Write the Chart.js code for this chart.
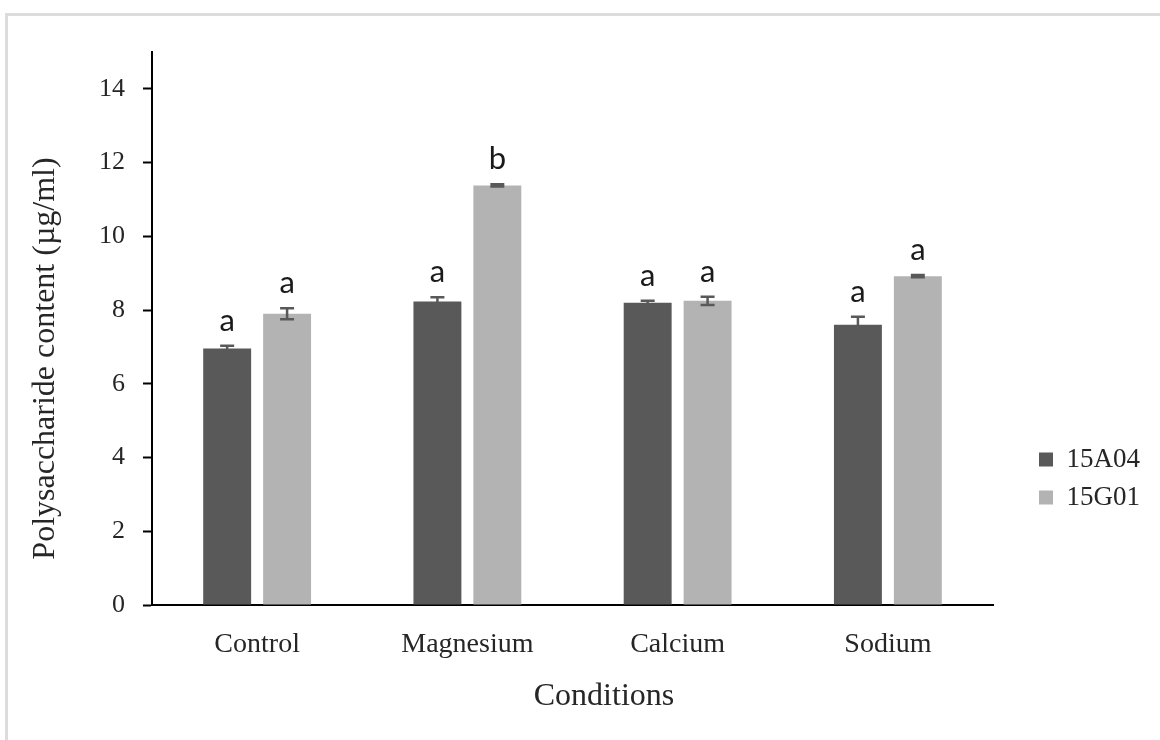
<!DOCTYPE html>
<html lang="en">
<head>
<meta charset="UTF-8">
<title>Polysaccharide content by condition</title>
<style>
  html, body {
    margin: 0;
    padding: 0;
    background: #fff;
    overflow: hidden;
  }
  /* light grey frame of the original figure, open to the right and bottom */
  .frame {
    position: absolute;
    left: 5px;
    top: 13px;
    width: 1200px;
    height: 800px;
    border-left: 3px solid #dcdcdc;
    border-top: 3px solid #dcdcdc;
  }
  .chart-container {
    position: absolute;
    left: 0;
    top: 0;
    width: 1160px;
    height: 740px;
  }
</style>
<script src="https://cdn.jsdelivr.net/npm/chart.js@4"></script>
</head>
<body>
<div class="frame"></div>
<div class="chart-container">
  <canvas id="polysaccharideChart" width="1160" height="740"></canvas>
</div>

<script>
// Data
const conditions = ["Control", "Magnesium", "Calcium", "Sodium"];
const values15A04 = [6.96, 8.23, 8.2, 7.6];
const errors15A04 = [0.07, 0.12, 0.05, 0.22];
const letters15A04 = ["a", "a", "a", "a"];
const values15G01 = [7.9, 11.38, 8.25, 8.92];
const errors15G01 = [0.15, 0.03, 0.11, 0.03];
const letters15G01 = ["a", "b", "a", "a"];
const yMax = 15;
const yStep = 2;

const serif = "'Liberation Serif', 'Times New Roman', serif";
const textColor = "#262626";

// Error bars and significance letters, placed with the chart's own scales
const errorBarsPlugin = {
	id: "errorBars",
	afterDatasetsDraw(chart) {
		const { ctx } = chart;
		const y = chart.scales.y;
		chart.data.datasets.forEach((ds, i) => {
			const meta = chart.getDatasetMeta(i);
			meta.data.forEach((bar, j) => {
				const top = y.getPixelForValue(ds.data[j] + ds.errors[j]);
				const bottom = y.getPixelForValue(ds.data[j] - ds.errors[j]);
				const cap = 7;
				ctx.save();
				ctx.strokeStyle = "#595959";
				ctx.lineWidth = 2.5;
				ctx.beginPath();
				ctx.moveTo(bar.x, top);
				ctx.lineTo(bar.x, bottom);
				ctx.moveTo(bar.x - cap, top);
				ctx.lineTo(bar.x + cap, top);
				ctx.moveTo(bar.x - cap, bottom);
				ctx.lineTo(bar.x + cap, bottom);
				ctx.stroke();

				ctx.fillStyle = "#1a1a1a";
				ctx.font = "31px Lato, 'Open Sans', sans-serif";
				ctx.textAlign = "center";
				ctx.textBaseline = "alphabetic";
				ctx.fillText(ds.letters[j], bar.x, top - 15);
				ctx.restore();
			});
		});
	},
};

// Axis titles: the original centres them a little off the plot area
const axisTitlesPlugin = {
	id: "axisTitles",
	afterDraw(chart) {
		const { ctx, chartArea } = chart;
		ctx.save();
		ctx.fillStyle = textColor;
		ctx.font = "32px " + serif;
		ctx.textAlign = "center";
		ctx.textBaseline = "middle";
		ctx.fillText("Conditions", chartArea.left + 452, chartArea.bottom + 92);

		ctx.translate(chartArea.left - 106, (chartArea.top + chartArea.bottom) / 2 + 30);
		ctx.rotate(-Math.PI / 2);
		ctx.fillText("Polysaccharide content (\u00b5g/ml)", 0, 0);
		ctx.restore();
	},
};

// Move the legend block down and away from the plot, as in the original
const legendOffsetPlugin = {
	id: "legendOffset",
	afterLayout(chart) {
		const lg = chart.legend;
		if (!lg) return;
		const dx = 1028 - lg.left;
		const dy = 435 - lg.top;
		lg.left += dx;
		lg.right += dx;
		lg.top += dy;
		lg.bottom += dy;
	},
};

const ctx = document.getElementById("polysaccharideChart").getContext("2d");
new Chart(ctx, {
	type: "bar",
	data: {
		labels: conditions,
		datasets: [
			{
				label: "15A04",
				data: values15A04,
				errors: errors15A04,
				letters: letters15A04,
				backgroundColor: "#595959",
				categoryPercentage: 0.57,
				barPercentage: 0.8,
			},
			{
				label: "15G01",
				data: values15G01,
				errors: errors15G01,
				letters: letters15G01,
				backgroundColor: "#b3b3b3",
				categoryPercentage: 0.57,
				barPercentage: 0.8,
			},
		],
	},
	options: {
		responsive: false,
		animation: false,
		layout: {
			padding: { top: 52, right: 45, bottom: 0, left: 0 },
		},
		plugins: {
			tooltip: { enabled: false },
			legend: {
				position: "right",
				align: "start",
				labels: {
					boxWidth: 14,
					boxHeight: 14,
					padding: 11,
					color: textColor,
					font: { family: serif, size: 27 },
				},
			},
		},
		scales: {
			x: {
				grid: { display: false, drawTicks: false },
				border: { display: true, color: "#000", width: 2 },
				ticks: {
					color: textColor,
					font: { family: serif, size: 28 },
					padding: 23,
				},
				afterFit(scale) {
					scale.height = 135;
				},
			},
			y: {
				min: 0,
				max: yMax,
				grid: {
					drawOnChartArea: false,
					drawTicks: true,
					tickLength: 9,
					tickWidth: 2,
					tickColor: "#000",
				},
				border: { display: true, color: "#000", width: 2 },
				ticks: {
					stepSize: yStep,
					includeBounds: false,
					color: textColor,
					font: { family: serif, size: 26 },
					padding: 18,
				},
				afterFit(scale) {
					scale.width = 152;
				},
			},
		},
	},
	plugins: [errorBarsPlugin, axisTitlesPlugin, legendOffsetPlugin],
});
</script>
</body>
</html>
